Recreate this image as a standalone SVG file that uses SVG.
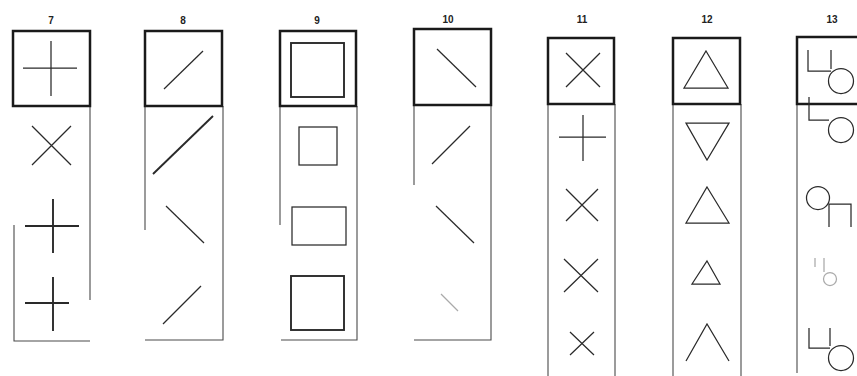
<svg xmlns="http://www.w3.org/2000/svg" width="857" height="376" viewBox="0 0 857 376">
<style>
.lbl{font-family:"Liberation Sans",Arial,sans-serif;font-size:10px;font-weight:bold;fill:#222;text-anchor:middle}
.box{fill:none;stroke:#1a1a1a;stroke-width:2.5}
.col{fill:none;stroke:#4a4a4a;stroke-width:1.1}
.sym{fill:none;stroke:#2a2a2a;stroke-width:1.25;stroke-linecap:butt}
.thick{stroke-width:1.9}
.faint{stroke:#aaa}
</style>
<rect width="857" height="376" fill="#fff"/>
<g id="connectors"></g>

<g id="col7">
<text class="lbl" x="51" y="24">7</text>
<path class="col" d="M90 106V300M14 225V341H90"/>
<rect class="box" x="13" y="31" width="77" height="75"/>
<path class="sym" d="M23 68H77M51 41V96"/>
<path class="sym" d="M32 126L71 165M71 126L32 165"/>
<path class="sym thick" d="M25 226H79M53 199V253"/>
<path class="sym thick" d="M25 303H69M53 277V331"/>
</g>

<g id="col8">
<text class="lbl" x="183" y="24">8</text>
<path class="col" d="M223 106V340H145M145 106V230"/>
<rect class="box" x="145" y="31" width="77" height="75"/>
<path class="sym" d="M164 89L203 51"/>
<path class="sym thick" d="M153 174L213 116"/>
<path class="sym" d="M166 206L204 243"/>
<path class="sym" d="M163 324L201 286"/>
</g>

<g id="col9">
<text class="lbl" x="317" y="24">9</text>
<path class="col" d="M357 106V340H281M280 106V225"/>
<rect class="box" x="280" y="31" width="76" height="75"/>
<rect class="sym thick" x="291" y="43" width="53" height="54"/>
<rect class="sym" x="299" y="127" width="38" height="38"/>
<rect class="sym" x="292" y="207" width="54" height="38"/>
<rect class="sym thick" x="291" y="276" width="53" height="54"/>
</g>

<g id="col10">
<text class="lbl" x="448" y="23">10</text>
<path class="col" d="M491 105V340H414M414 105V185"/>
<rect class="box" x="414" y="29" width="77" height="76"/>
<path class="sym" d="M437 49L476 87"/>
<path class="sym" d="M432 164L470 126"/>
<path class="sym" d="M436 206L474 243"/>
<path class="sym faint" d="M441 294L458 311"/>
</g>

<g id="col11">
<text class="lbl" x="582" y="23">11</text>
<path class="col" d="M548 104V376M615 104V376"/>
<rect class="box" x="548" y="38" width="66" height="66"/>
<path class="sym" d="M566 53L600 87M600 53L566 87"/>
<path class="sym" d="M559 137H606M583 115V161"/>
<path class="sym" d="M566 189L598 221M598 189L566 221"/>
<path class="sym" d="M564 259L598 292M598 259L564 292"/>
<path class="sym" d="M570 332L594 355M594 332L570 355"/>
</g>

<g id="col12">
<text class="lbl" x="707" y="23">12</text>
<path class="col" d="M673 104V376M741 104V376"/>
<rect class="box" x="673" y="38" width="67" height="66"/>
<path class="sym" d="M706 51L728 88H684Z"/>
<path class="sym" d="M686 123H729L707 160Z"/>
<path class="sym" d="M707 187L729 223H686Z"/>
<path class="sym" d="M707 261L720 284H692Z"/>
<path class="sym" d="M686 361L707 324L729 361"/>
</g>

<g id="col13">
<text class="lbl" x="832" y="23">13</text>
<path class="col" d="M797 104V373"/>
<rect class="box" x="797" y="37" width="70" height="67"/>
<path class="sym" d="M808 50V71H831M831 50V69"/>
<circle class="sym" cx="841" cy="81" r="12.5"/>
<path class="sym" d="M809 97V120H829"/>
<circle class="sym" cx="841" cy="130" r="12.5"/>
<circle class="sym" cx="818" cy="198" r="11.5"/>
<path class="sym" d="M829 227V204H851V227"/>
<path class="sym faint" d="M815 258V267M824 258V272"/>
<circle class="sym faint" cx="830" cy="279" r="6.5"/>
<path class="sym" d="M809 328V348H830M830 328V346"/>
<circle class="sym" cx="841" cy="358" r="12.5"/>
</g>
</svg>
